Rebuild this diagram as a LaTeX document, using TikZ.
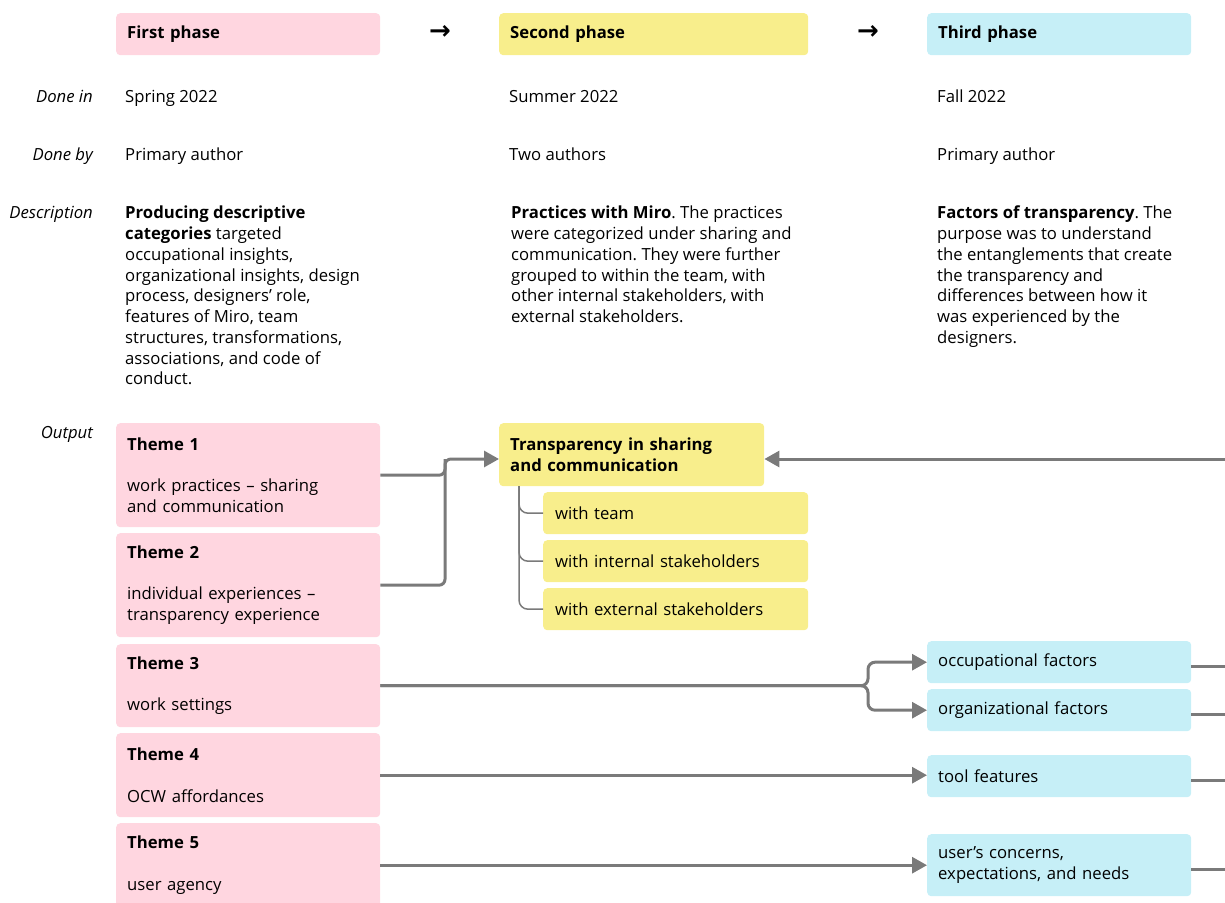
\documentclass[tikz,border=0pt]{standalone}
\usepackage{fontspec}
\setmainfont{Open Sans}
\newfontfamily\arrowfont{DejaVu Sans}
\usetikzlibrary{positioning}
\usetikzlibrary{arrows.meta}
\frenchspacing

\definecolor{phasepink}{HTML}{FFD6E0}
\definecolor{phaseyellow}{HTML}{F8EE8C}
\definecolor{phaseblue}{HTML}{C6EFF7}
\definecolor{linegray}{HTML}{7A7A7A}

\tikzset{
	txt/.style={inner sep=0, align=left, text=black, font=\fontsize{16.7}{20.75}\selectfont},
	rowlabel/.style={txt, anchor=base east, font=\fontsize{16.7}{20.75}\selectfont\itshape},
	card/.style={txt, anchor=north west, rounded corners=4, inner xsep=11, inner ysep=0, text width=242},
	pinkcard/.style={card, fill=phasepink},
	yellowcard/.style={card, fill=phaseyellow},
	bluecard/.style={card, fill=phaseblue},
	link/.style={draw=linegray, line width=3pt},
	arrowlink/.style={link, -{Triangle[length=15pt, width=16pt]}},
	branch/.style={draw=linegray, line width=1.5pt, rounded corners=9},
}

\begin{document}
\begin{tikzpicture}[x=1pt, y=-1pt]
	\path[use as bounding box, clip] (0,0) rectangle (1225,902);

	% phases
	\node[pinkcard, minimum height=42] (ph1) at (116,13) {\textbf{First phase}};
	\node[yellowcard, minimum height=42, text width=287] (ph2) at (499,13) {\textbf{Second phase}};
	\node[bluecard, minimum height=42] (ph3) at (927,13) {\textbf{Third phase}};
	\node[txt, font=\arrowfont\bfseries\fontsize{26}{26}\selectfont] (go1) at (440,32) {→};
	\node[txt, font=\arrowfont\bfseries\fontsize{26}{26}\selectfont] (go2) at (868,32) {→};

	% rows
	\node[rowlabel] (lbl-in) at (93,102) {Done in};
	\node[rowlabel] (lbl-by) at (93,160) {Done by};
	\node[rowlabel] (lbl-desc) at (93,218) {Description};
	\node[rowlabel] (lbl-out) at (93,438) {Output};

	\node[txt, anchor=base west] (in1) at (125,102) {Spring 2022};
	\node[txt, anchor=base west] (in2) at (509,102) {Summer 2022};
	\node[txt, anchor=base west] (in3) at (937,102) {Fall 2022};
	\node[txt, anchor=base west] (by1) at (125,160) {Primary author};
	\node[txt, anchor=base west] (by2) at (509,160) {Two authors};
	\node[txt, anchor=base west] (by3) at (937,160) {Primary author};

	\node[txt, anchor=north west] (desc1) at (125,206) {\textbf{Producing descriptive}\\
		\textbf{categories} targeted\\ occupational insights,\\ organizational insights, design\\
		process, designers’ role,\\ features of Miro, team\\ structures, transformations,\\
		associations, and code of\\ conduct.};
	\node[txt, anchor=north west] (desc2) at (511,206) {\textbf{Practices with Miro}. The practices\\
		were categorized under sharing and\\ communication. They were further\\
		grouped to within the team, with\\ other internal stakeholders, with\\ external stakeholders.};
	\node[txt, anchor=north west] (desc3) at (937,206) {\textbf{Factors of transparency}. The\\
		purpose was to understand\\ the entanglements that create\\ the transparency and\\
		differences between how it\\ was experienced by the\\ designers.};

	% output
	\node[pinkcard, minimum height=104] (t1) at (116,423) {\textbf{Theme 1}\\[20.75pt]work practices – sharing\\ and communication};
	\node[pinkcard, minimum height=104] (t2) at (116,533) {\textbf{Theme 2}\\[20.75pt]individual experiences –\\ transparency experience};
	\node[pinkcard, minimum height=83] (t3) at (116,644) {\textbf{Theme 3}\\[20.75pt]work settings};
	\node[pinkcard, minimum height=84] (t4) at (116,733) {\textbf{Theme 4}\\[20.75pt]OCW affordances};
	\node[pinkcard, minimum height=84] (t5) at (116,823) {\textbf{Theme 5}\\[20.75pt]user agency};

	\node[yellowcard, minimum height=63, text width=243] (trans) at (499,423) {\textbf{Transparency in sharing}\\ \textbf{and communication}};
	\node[yellowcard, minimum height=42, inner xsep=12, text width=241] (team) at (543,492) {with team};
	\node[yellowcard, minimum height=42, inner xsep=12, text width=241] (int) at (543,540) {with internal stakeholders};
	\node[yellowcard, minimum height=42, inner xsep=12, text width=241] (ext) at (543,588) {with external stakeholders};

	\node[bluecard, minimum height=42] (occ) at (927,641) {occupational factors};
	\node[bluecard, minimum height=42] (org) at (927,689) {organizational factors};
	\node[bluecard, minimum height=42] (tool) at (927,755) {tool features};
	\node[bluecard, minimum height=62] (user) at (927,834) {user’s concerns,\\ expectations, and needs};

	% connectors
	\coordinate (join) at (445,459);
	\coordinate (fromright) at (1225,459);
	\coordinate (split) at (868,686);
	\coordinate (stem) at (519,486);

	\draw[link, rounded corners=6] (t1.east) -| (join);
	\draw[arrowlink, rounded corners=6] (t2.east) -| (join) -- (join -| trans.west);
	\draw[arrowlink] (fromright) -- (fromright -| trans.east);

	\foreach \s in {team,int,ext}
		\draw[branch] (stem) |- (\s.west);

	\draw[arrowlink, rounded corners=7] (t3.east) -| (occ.west -| split) -- (occ.west);
	\draw[arrowlink, rounded corners=7] (t3.east) -| (org.west -| split) -- (org.west);
	\draw[arrowlink] (t4.east) -- (t4.east -| tool.west);
	\draw[arrowlink] (t5.east) -- (t5.east -| user.west);

	\foreach \b in {occ,org,tool,user}
		\draw[link] ([yshift=-4]\b.east) -- ++(40,0);
\end{tikzpicture}
\end{document}
